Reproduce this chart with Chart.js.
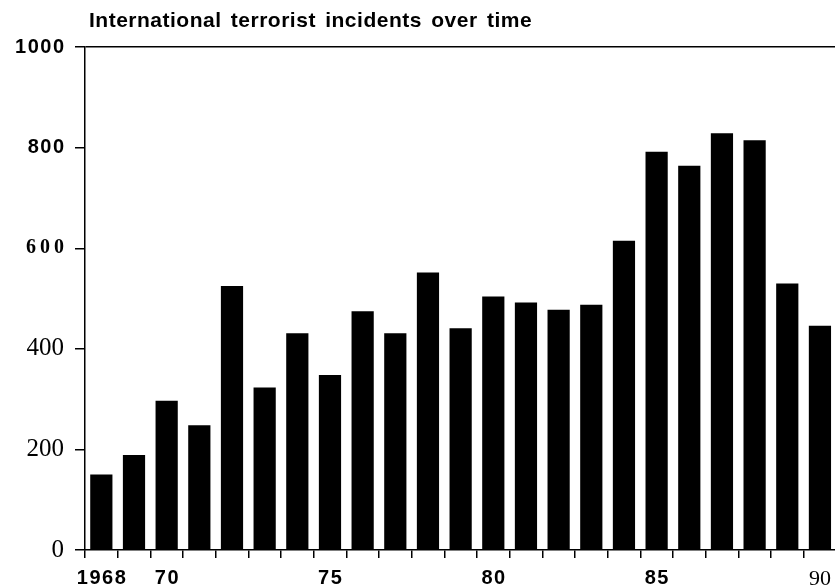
<!DOCTYPE html>
<html><head><meta charset="utf-8">
<script src="https://cdn.jsdelivr.net/npm/chart.js@4"></script>
<style>html,body{margin:0;padding:0;background:#fff;overflow:hidden}#wrap{width:839px;height:588px}</style>
</head><body><div id="wrap"><canvas id="c" width="839" height="588"></canvas></div>
<script>
const years = ['1968','1969','1970','1971','1972','1973','1974','1975','1976','1977','1978','1979','1980','1981','1982','1983','1984','1985','1986','1987','1988','1989','1990'];
const xTickLabels = ['1968','','70','','','','','75','','','','','80','','','','','85','','','','','90'];
const incidents = [150,189,297,248,525,323,431,348,475,431,552,441,504,492,478,488,615,792,764,829,815,530,446];
const yTickValues = [0,200,400,600,800,1000];
const titleText = 'International terrorist incidents over time';

const canvas = document.getElementById('c');
const cctx = canvas.getContext('2d');
// Typographic tracking of the original print (letter / word spacing per font)
const origFill = cctx.fillText;
cctx.fillText = function(t, x, y, m) {
  const f = this.font;
  let ls = 0, ws = 0, dx = 0;
  if (f.indexOf('Liberation Sans') >= 0 && f.indexOf('21px') >= 0) { ls = 0.5; ws = 3; dx = 4; }
  else if (f.indexOf('Liberation Sans') >= 0 && f.indexOf('20px') >= 0) { ls = 1.5; }
  else if (f.indexOf('Liberation Serif') >= 0 && f.indexOf('bold') >= 0) { ls = 4; }
  this.letterSpacing = ls + 'px';
  this.wordSpacing = ws + 'px';
  if (this.textAlign === 'right') dx += ls;
  else if (this.textAlign === 'center') dx += ls / 2;
  if (m === undefined) origFill.call(this, t, x + dx, y); else origFill.call(this, t, x + dx, y, m);
  this.letterSpacing = '0px';
  this.wordSpacing = '0px';
};

const sansBold = (size) => ({family:'Liberation Sans', weight:'bold', size:size, lineHeight:1.2});
const serif = (size, bold) => ({family:'Liberation Serif', weight: bold ? 'bold' : 'normal', size:size, lineHeight:1.2});

new Chart(canvas, {
  type:'bar',
  data:{labels: years, datasets:[{data: incidents, backgroundColor:'#000', borderWidth:0, barPercentage:0.68, categoryPercentage:1}]},
  options:{
    responsive:false, animation:false, devicePixelRatio:1,
    layout:{padding:0},
    plugins:{
      legend:{display:false}, tooltip:{enabled:false},
      title:{display:true, text:titleText, align:'start', fullSize:false, color:'#000',
        font:{family:'Liberation Sans', weight:'bold', size:21, lineHeight:1.2}, padding:{top:9, bottom:13}}
    },
    scales:{
      x:{
        grid:{display:true, drawOnChartArea:false, drawTicks:true, tickLength:8, color:'#000', lineWidth:1.5},
        border:{display:true, color:'#000', width:1.5},
        ticks:{autoSkip:false, maxRotation:0, minRotation:0, padding:8, color:'#000',
          callback:(v,i)=>xTickLabels[i],
          font:(c)=> c.index === 22 ? serif(22,false) : sansBold(20)},
        afterFit:(s)=>{ s.height = 38; }
      },
      y:{
        min:0, max:1000,
        afterBuildTicks:(s)=>{ s.ticks = yTickValues.map(v=>({value:v})); },
        grid:{drawOnChartArea:true, drawTicks:true, tickLength:10, tickColor:'#000', lineWidth:1.5,
          color:(c)=> (c.tick && c.tick.value === 1000) ? '#000' : 'rgba(0,0,0,0)'},
        border:{display:true, color:'#000', width:1.5},
        ticks:{padding:11, color:'#000', callback:(v)=>String(v),
          font:(c)=>{ const v = c.tick ? c.tick.value : 0;
            if (v >= 800) return sansBold(20);
            if (v === 600) return serif(20,true);
            return serif(25,false); }},
        afterFit:(s)=>{ s.width = 85; }
      }
    }
  }
});
</script></body></html>
